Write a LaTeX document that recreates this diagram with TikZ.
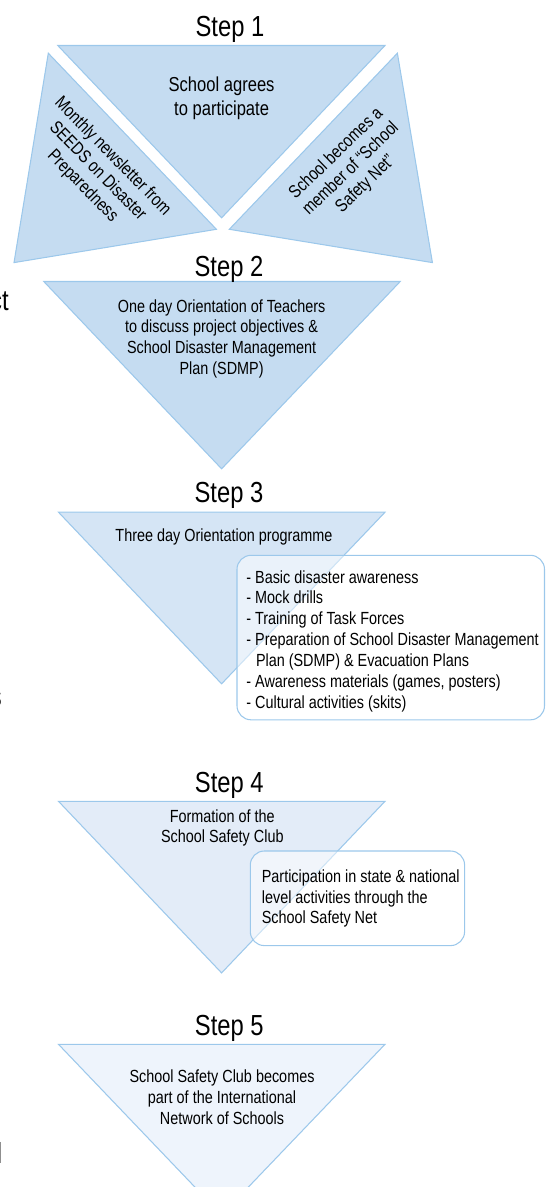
\documentclass[tikz,border=0pt]{standalone}
\usepackage{fontspec}
\setmainfont{Liberation Sans}[FakeStretch=0.82]
\definecolor{edgeblue}{HTML}{9CC8EB}
\definecolor{fillA}{HTML}{C5DCF1}
\definecolor{fillB}{HTML}{D5E5F5}
\definecolor{fillC}{HTML}{E3ECF8}
\definecolor{fillD}{HTML}{EEF4FC}
\tikzset{
  tri/.style={draw=edgeblue, line width=0.6pt, line join=miter},
  steplabel/.style={anchor=base, inner sep=0pt, font=\fontsize{16.5}{19}\selectfont},
  bodytext/.style={anchor=north, inner sep=0pt, align=center, font=\fontsize{10}{11.8}\selectfont},
  sidetext/.style={inner sep=0pt, align=center, font=\fontsize{10.3}{12}\selectfont},
  listbox/.style={draw=edgeblue, line width=0.6pt, rounded corners=8pt, fill=white, fill opacity=0.5},
  listtext/.style={anchor=north west, inner sep=0pt, align=left, font=\fontsize{10}{11.85}\selectfont},
  cutoff/.style={anchor=base east, inner sep=0pt, font=\fontsize{16.5}{19}\selectfont}
}
\begin{document}
\begin{tikzpicture}[x=0.02cm, y=-0.02cm]
\useasboundingbox (0,0) rectangle (549,1187);

\draw[tri, fill=fillA] (57.8,45.5) -- (385,45.5) -- (221.6,217.8) -- cycle;
\draw[tri, fill=fillA] (48.3,53.2) -- (216.4,229.3) -- (14,262.6) -- cycle;
\draw[tri, fill=fillA] (397.4,53.2) -- (432.4,262.6) -- (229.3,229.3) -- cycle;
\node[steplabel] (step1) at (230,36.8) {Step 1};
\node[bodytext, font=\fontsize{11.5}{13.9}\selectfont] (agree) at (221.6,76.3) {School agrees\\to participate};
\node[sidetext, rotate=-45.5] (newsletter) at (97.5,171.5) {Monthly newsletter from\\SEEDS on Disaster\\Preparedness};
\node[sidetext, rotate=44] (member) at (351,169) {School becomes a\\member of “School\\Safety Net”};

\draw[tri, fill=fillA] (43.8,281.5) -- (400.2,281.5) -- (221.6,468.8) -- cycle;
\node[steplabel] (step2) at (229,276.3) {Step 2};
\node[bodytext] (teachers) at (221.6,299) {One day Orientation of Teachers\\to discuss project objectives \&\\School Disaster Management\\Plan (SDMP)};

\draw[tri, fill=fillB] (58.5,512.2) -- (385,512.2) -- (221.6,683.8) -- cycle;
\node[steplabel] (step3) at (229,502) {Step 3};
\node[bodytext] (threeday) at (224,528) {Three day Orientation programme};
\draw[listbox] (237,555.3) rectangle (544.5,719.8);
\node[listtext] (programme) at (246,570) {- Basic disaster awareness\\- Mock drills\\- Training of Task Forces\\- Preparation of School Disaster Management\\\hspace*{0.55em}Plan (SDMP) \& Evacuation Plans\\- Awareness materials (games, posters)\\- Cultural activities (skits)};

\draw[tri, fill=fillC] (58.5,801.3) -- (385,801.3) -- (221.6,972.9) -- cycle;
\node[steplabel] (step4) at (229.3,792) {Step 4};
\node[bodytext] (club) at (222.3,809) {Formation of the\\School Safety Club};
\draw[listbox] (250.3,851) rectangle (464.6,945.6);
\node[listtext] (participation) at (261.5,869.2) {Participation in state \& national\\level activities through the\\School Safety Net};

\draw[tri, fill=fillD] (58.5,1044.3) -- (385,1044.3) -- (221.6,1215) -- cycle;
\node[steplabel] (step5) at (229.3,1035) {Step 5};
\node[bodytext] (network) at (222,1069.9) {School Safety Club becomes\\part of the International\\Network of Schools};

\node[cutoff] (cutA) at (9,310) {ct};
\node[cutoff] (cutB) at (2,706) {s};
\node[cutoff] (cutC) at (2.5,1163) {l};
\end{tikzpicture}
\end{document}
